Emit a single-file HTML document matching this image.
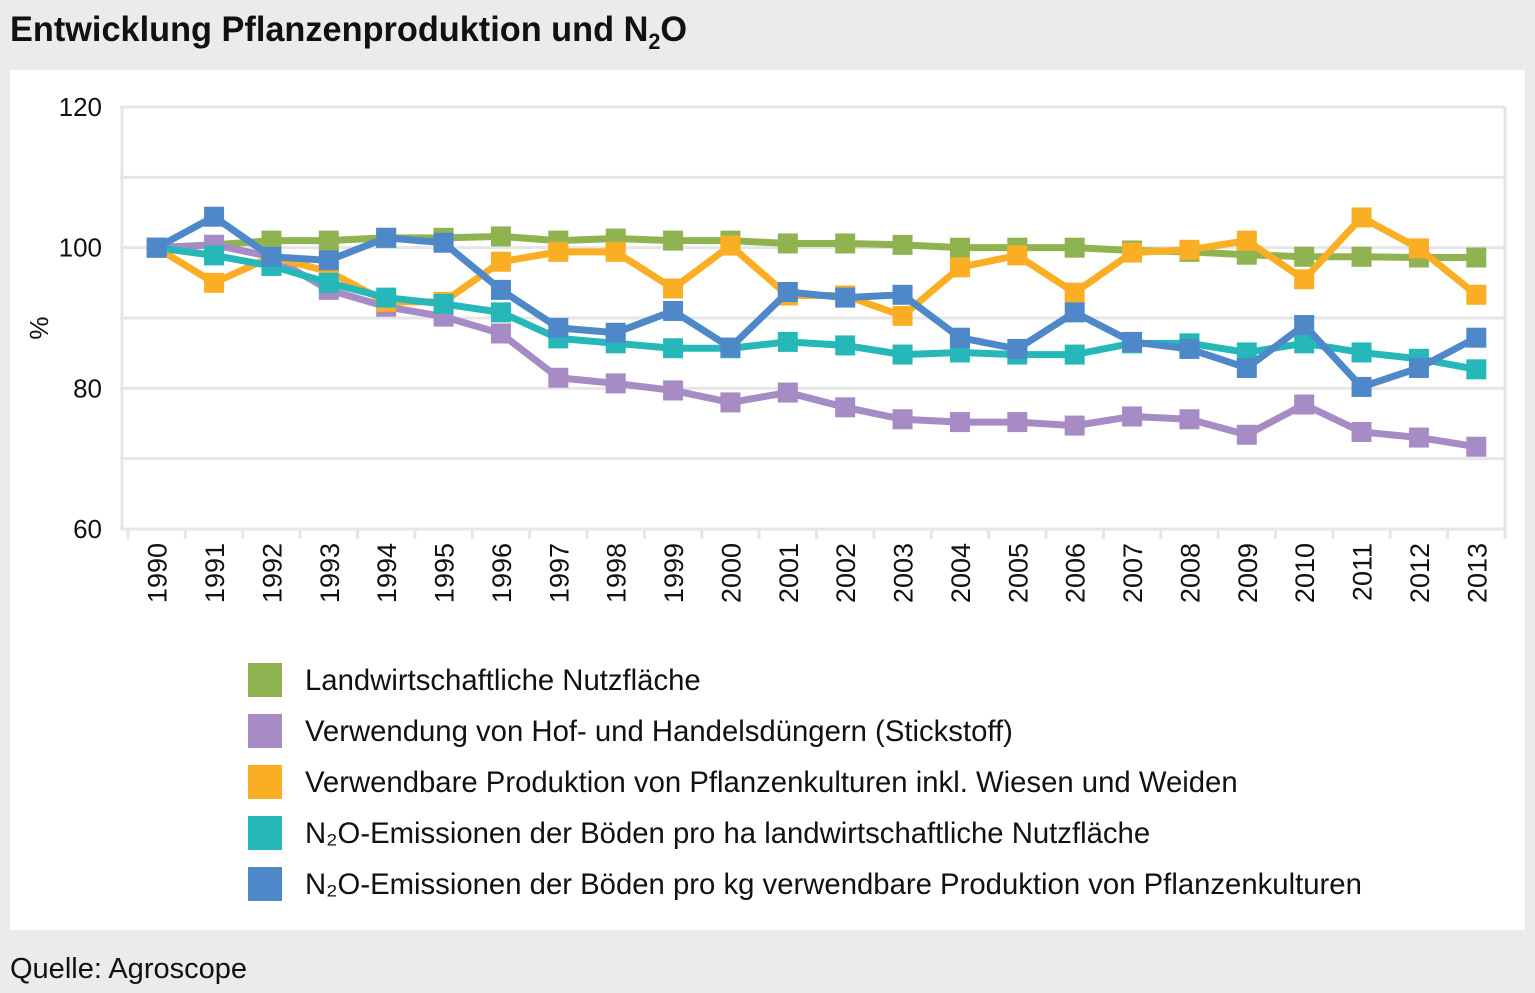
<!DOCTYPE html>
<html><head><meta charset="utf-8"><style>
body{margin:0;width:1535px;height:993px;background:#ebebeb;font-family:"Liberation Sans Narrow","Liberation Sans",sans-serif;overflow:hidden;position:relative}
#title{position:absolute;left:10px;top:10px;font-size:35px;font-weight:bold;color:#111;transform:scaleX(0.98);transform-origin:left}
#panel{position:absolute;left:10px;top:70px;width:1515px;height:860px;background:#fff}
#src{position:absolute;left:10px;top:953px;font-size:29px;color:#111}
</style></head><body>
<div id="title">Entwicklung Pflanzenproduktion und N<sub style="font-size:22px">2</sub>O</div>
<div id="panel"></div>
<svg id="chart" width="1535" height="993" style="position:absolute;left:0;top:0"></svg>
<div id="src">Quelle: Agroscope</div>
<script>
const years=["1990","1991","1992","1993","1994","1995","1996","1997","1998","1999","2000","2001","2002","2003","2004","2005","2006","2007","2008","2009","2010","2011","2012","2013"];
const yTicks=[60,80,100,120];
const seriesNames=["Landwirtschaftliche Nutzfläche","Verwendung von Hof- und Handelsdüngern (Stickstoff)","Verwendbare Produktion von Pflanzenkulturen inkl. Wiesen und Weiden","N₂O-Emissionen der Böden pro ha landwirtschaftliche Nutzfläche","N₂O-Emissionen der Böden pro kg verwendbare Produktion von Pflanzenkulturen"];
const colors=["#8fb350","#a68bc4","#f9ae24","#26b8b8","#4f88c9"];
const green=[100,100.4,101,101,101.4,101.4,101.6,101,101.3,101,101,100.6,100.6,100.4,100,100,100,99.6,99.4,99,98.7,98.7,98.6,98.6];
const purple=[100,100.4,98.7,94,91.6,90.2,87.8,81.5,80.7,79.7,78,79.4,77.3,75.6,75.2,75.2,74.7,76,75.6,73.4,77.7,73.8,73,71.7];
const orange=[100,95,98.7,96.6,92.3,92.3,98,99.4,99.4,94.2,100.3,93.2,93.2,90.3,97.2,98.9,93.6,99.3,99.7,101,95.5,104.3,99.9,93.3];
const teal=[100,98.9,97.4,95,92.9,92,90.8,87.1,86.4,85.7,85.7,86.6,86.1,84.8,85.1,84.8,84.8,86.4,86.4,85.1,86.4,85.1,84.2,82.7];
const blue=[100,104.4,98.7,98.2,101.4,100.7,94,88.6,87.9,91,85.8,93.7,92.9,93.3,87.2,85.6,90.8,86.6,85.6,82.9,89,80.2,82.9,87.2];
const series=[green,purple,orange,teal,blue];
const NS="http://www.w3.org/2000/svg",svg=document.getElementById('chart');
const X0=128,X1=1505,Y0=529,Y1=107;
const step=(X1-X0)/years.length;
const xs=i=>X0+step*(i+0.5);
const ys=v=>Y0-(v-60)/(120-60)*(Y0-Y1);
function mk(t,a){const e=document.createElementNS(NS,t);for(const k in a)e.setAttribute(k,a[k]);svg.appendChild(e);return e;}
for(let v=60;v<=120;v+=10){const g=mk('line',{x1:X0-8,x2:X1,y1:ys(v),y2:ys(v),stroke:'#e6e6e6','stroke-width':3});

}
const ra=mk('line',{x1:X1,x2:X1,y1:Y1,y2:Y0,stroke:'#e6e6e6','stroke-width':3});


const la=mk('line',{x1:X0-6,x2:X0-6,y1:Y1,y2:Y0,stroke:'#e6e6e6','stroke-width':3});


for(let i=0;i<=years.length;i++){const t=mk('line',{x1:X0+step*i,x2:X0+step*i,y1:Y0,y2:Y0+10,stroke:'#e6e6e6','stroke-width':3});

}
yTicks.forEach(v=>{const t=mk('text',{x:102,y:ys(v)+9,'text-anchor':'end','font-size':26,fill:'#111','font-family':'Liberation Sans Narrow, Liberation Sans, sans-serif'});t.textContent=v;

});
const yt=mk('text',{x:48,y:328,'font-size':26,fill:'#111',transform:'rotate(-90 48 328)','text-anchor':'middle'});yt.textContent='%';


years.forEach((y,i)=>{const x=xs(i)+10,yy=543;const t=mk('text',{x:x,y:yy,'text-anchor':'end','font-size':27,fill:'#111',transform:`rotate(-90 ${x} ${yy})`,'font-family':'Liberation Sans Narrow, Liberation Sans, sans-serif'});t.textContent=y;

});
series.forEach((s,k)=>{const p=mk('polyline',{points:s.map((v,i)=>xs(i)+','+ys(v)).join(' '),fill:'none',stroke:colors[k],'stroke-width':7,'stroke-linejoin':'round'});


s.forEach((v,i)=>{const r=mk('rect',{x:xs(i)-10,y:ys(v)-10,width:20,height:20,fill:colors[k]});

});});
seriesNames.forEach((n,k)=>{const y=680+k*51;const r=mk('rect',{x:248,y:y-17,width:34,height:34,fill:colors[k]});


const t=mk('text',{x:305,y:y+10,'font-size':29.3,fill:'#111','font-family':'Liberation Sans Narrow, Liberation Sans, sans-serif'});t.textContent=n;

});
</script>
</body></html>
